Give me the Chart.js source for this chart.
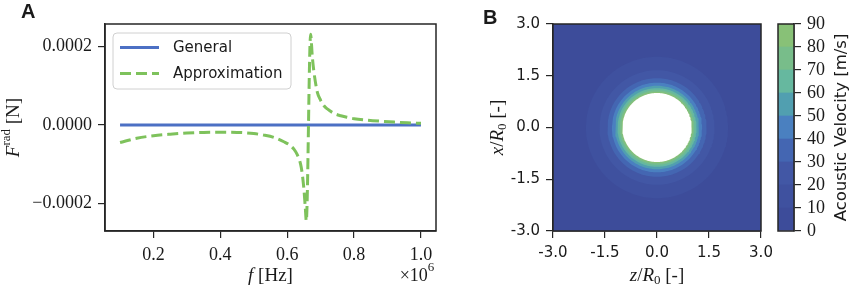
<!DOCTYPE html>
<html>
<head>
<meta charset="utf-8">
<script src="https://cdn.jsdelivr.net/npm/chart.js@4.4.0/dist/chart.umd.min.js"></script>
<style>
body { margin: 0; background: #fff; }
#wrap { position: relative; width: 851px; height: 286px; overflow: hidden; background: #fff; }
canvas { position: absolute; top: 0; }
.letra { position: absolute; font: bold 20px "Liberation Sans", Arial, sans-serif; color: #1a1a1a; }
</style>
</head>
<body>
<div id="wrap">
  <canvas id="grafA" width="440" height="286" style="left:0"></canvas>
  <canvas id="grafB" width="345" height="286" style="left:440px"></canvas>
  <canvas id="grafC" width="81" height="286" style="left:770px"></canvas>
  <div class="letra" style="left:21px;top:0px">A</div>
  <div class="letra" style="left:483px;top:6px">B</div>
</div>
<script>
// ---- dados do painel A (frequencia em 10^6 Hz, forca em N)
const freqApprox = [0.10, 0.15, 0.20, 0.25, 0.30, 0.35, 0.40, 0.45, 0.50, 0.53, 0.56, 0.59,
    0.61, 0.62, 0.63, 0.64, 0.645, 0.65, 0.654, 0.657, 0.670, 0.675, 0.68, 0.69, 0.70, 0.71,
    0.72, 0.74, 0.76, 0.78, 0.80, 0.84, 0.88, 0.92, 0.96, 1.00];
const forceApprox = [-4.5e-5, -3.4e-5, -2.75e-5, -2.35e-5, -2.05e-5, -1.9e-5, -1.85e-5, -1.9e-5,
    -2.2e-5, -2.6e-5, -3.2e-5, -4.3e-5, -5.3e-5, -6.2e-5, -7.6e-5, -1.0e-4, -1.25e-4, -1.65e-4,
    -2.1e-4, -2.45e-4, 2.32e-4, 1.75e-4, 1.35e-4, 8.4e-5, 6.3e-5, 4.9e-5, 4.1e-5, 2.95e-5,
    2.35e-5, 1.95e-5, 1.6e-5, 1.22e-5, 9.5e-6, 7.3e-6, 5.6e-6, 4.2e-6];
const freqGeneral = [0.10, 0.325, 0.55, 0.775, 1.00];
const forceGeneral = [0, 0, 0, 0, 0];
const xTicksA = [0.2, 0.4, 0.6, 0.8, 1.0];
const xTickLabelsA = ['0.2', '0.4', '0.6', '0.8', '1.0'];
const yTicksA = [-0.0002, 0, 0.0002];
const yTickLabelsA = ['\u22120.0002', '0.0000', '0.0002'];

// ---- dados do painel B (velocidade acustica)
const niveis = [0, 10, 20, 30, 40, 50, 60, 70, 80, 90];
const raiosNiveis = [2.05, 1.66, 1.43, 1.30, 1.21, 1.14, 1.08, 1.03]; // raio onde v = 10..80
const raioEsfera = 1.0;
const coresFaixas = ['#3d4c9a', '#3f519f', '#4257a5', '#4466b2', '#4a80c0', '#519fb0', '#66b89f', '#78bd8a', '#88c177'];
const ticksB = [-3, -1.5, 0, 1.5, 3];
const tickLabelsB = ['-3.0', '-1.5', '0.0', '1.5', '3.0'];
const ticksCor = [0, 10, 20, 30, 40, 50, 60, 70, 80, 90];
const tickLabelsCor = ['0', '10', '20', '30', '40', '50', '60', '70', '80', '90'];

Chart.defaults.animation = false;
Chart.defaults.font.family = '"DejaVu Sans", sans-serif';

const SERIF = '"Liberation Serif", "DejaVu Serif", serif';
const SANS = '"DejaVu Sans", sans-serif';
const ESCURO = '#262626';

// escreve texto com partes de fontes diferentes, centrado em (x, y)
function texto(ctx, partes, x, y, rot) {
    ctx.save();
    ctx.translate(x, y);
    if (rot) ctx.rotate(rot);
    ctx.fillStyle = '#1a1a1a';
    ctx.textBaseline = 'middle';
    let total = 0;
    partes.forEach(p => { ctx.font = p[1]; total += ctx.measureText(p[0]).width; });
    let cx = -total / 2;
    partes.forEach(p => {
        ctx.font = p[1];
        ctx.fillText(p[0], cx, p[2] || 0);
        cx += ctx.measureText(p[0]).width;
    });
    ctx.restore();
}

const moldura = {
    id: 'moldura',
    afterDraw(chart) {
        const a = chart.chartArea, ctx = chart.ctx;
        ctx.save();
        ctx.strokeStyle = ESCURO;
        ctx.lineWidth = 1.5;
        ctx.strokeRect(a.left, a.top, a.right - a.left, a.bottom - a.top);
        ctx.restore();
    }
};

function eixo(min, max, ticks, labels, fonte, extra) {
    return Object.assign({
        type: 'linear', min: min, max: max,
        afterBuildTicks: s => { s.ticks = ticks.map(v => ({value: v})); },
        ticks: { font: fonte, color: '#1a1a1a', padding: 6, autoSkip: false, maxRotation: 0,
                 callback: (v, i) => labels[i] },
        grid: { drawOnChartArea: false, tickLength: 7, color: ESCURO, lineWidth: 1.2 },
        border: { color: ESCURO, width: 1.5 }
    }, extra);
}

// ---------------- painel A
const textosA = {
    id: 'textosA',
    afterDraw(chart) {
        const ctx = chart.ctx, a = chart.chartArea;
        // legenda
        const lx = a.left + 8, ly = a.top + 9, lw = 178, lh = 56;
        ctx.save();
        ctx.beginPath();
        ctx.roundRect(lx, ly, lw, lh, 4);
        ctx.fillStyle = 'rgba(255,255,255,0.8)';
        ctx.fill();
        ctx.strokeStyle = '#d0d0d0';
        ctx.lineWidth = 1;
        ctx.stroke();
        chart.data.datasets.forEach((ds, i) => {
            const y = ly + 14.5 + i * 26;
            ctx.beginPath();
            ctx.setLineDash(ds.borderDash || []);
            ctx.strokeStyle = ds.borderColor;
            ctx.lineWidth = ds.borderWidth;
            ctx.moveTo(lx + 7, y);
            ctx.lineTo(lx + 46, y);
            ctx.stroke();
            ctx.setLineDash([]);
            ctx.fillStyle = '#1a1a1a';
            ctx.font = '15px ' + SANS;
            ctx.textBaseline = 'middle';
            ctx.fillText(ds.label, lx + 60, y + 1);
        });
        ctx.restore();
        // titulos dos eixos
        const cx = (a.left + a.right) / 2, cy = (a.top + a.bottom) / 2;
        texto(ctx, [['f', 'italic 19px ' + SERIF], [' [Hz]', '19px ' + SERIF]], cx, 276);
        texto(ctx, [['F', 'italic 19px ' + SERIF], ['rad', '13px ' + SERIF, -7], [' [N]', '19px ' + SERIF]], 14, cy, -Math.PI / 2);
        texto(ctx, [['\u00d710', '18px ' + SERIF], ['6', '13px ' + SERIF, -8]], a.right - 19, 276);
    }
};

new Chart(document.getElementById('grafA').getContext('2d'), {
    type: 'scatter',
    data: {
        datasets: [{
            label: 'General',
            data: freqGeneral.map((f, i) => ({x: f, y: forceGeneral[i]})),
            showLine: true, borderColor: '#4c70c4', borderWidth: 3, pointRadius: 0, order: 1
        }, {
            label: 'Approximation',
            data: freqApprox.map((f, i) => ({x: f, y: forceApprox[i]})),
            showLine: true, borderColor: '#7ec25c', borderWidth: 3, borderDash: [11, 5],
            pointRadius: 0, cubicInterpolationMode: 'monotone', order: 0
        }]
    },
    options: {
        responsive: false,
        layout: { padding: { left: 0, right: 4, top: 24, bottom: 0 } },
        plugins: { legend: { display: false }, tooltip: { enabled: false } },
        scales: {
            x: eixo(0.055, 1.045, xTicksA, xTickLabelsA, {family: SERIF, size: 18},
                    { afterFit: s => { s.height = 55; } }),
            y: eixo(-0.000271, 0.000258, yTicksA, yTickLabelsA, {family: SERIF, size: 18},
                    { afterFit: s => { s.width = 105; } })
        }
    },
    plugins: [moldura, textosA]
});

// ---------------- painel B
function circulo(r) {
    const pts = [];
    for (let k = 0; k <= 180; k++) {
        const t = k / 180 * 2 * Math.PI;
        pts.push({x: r * Math.cos(t), y: r * Math.sin(t)});
    }
    return pts;
}
const camadas = [];
camadas.push({ data: [{x: -3, y: -3}, {x: 3, y: -3}, {x: 3, y: 3}, {x: -3, y: 3}, {x: -3, y: -3}],
               backgroundColor: coresFaixas[0] });
raiosNiveis.forEach((r, i) => camadas.push({ data: circulo(r), backgroundColor: coresFaixas[i + 1] }));
camadas.push({ data: circulo(raioEsfera), backgroundColor: '#ffffff' });
camadas.forEach((c, i) => Object.assign(c, {
    showLine: true, fill: 'shape', borderWidth: 0, pointRadius: 0, tension: 0, order: camadas.length - i
}));

const textosB = {
    id: 'textosB',
    afterDraw(chart) {
        const ctx = chart.ctx, a = chart.chartArea;
        const cx = (a.left + a.right) / 2, cy = (a.top + a.bottom) / 2;
        texto(ctx, [['z', 'italic 19px ' + SERIF], ['/', '19px ' + SERIF], ['R', 'italic 19px ' + SERIF],
                     ['0', '13px ' + SERIF, 5], [' [-]', '19px ' + SERIF]], cx, 276);
        texto(ctx, [['x', 'italic 19px ' + SERIF], ['/', '19px ' + SERIF], ['R', 'italic 19px ' + SERIF],
                     ['0', '13px ' + SERIF, 5], [' [-]', '19px ' + SERIF]], 58, cy, -Math.PI / 2);
    }
};

new Chart(document.getElementById('grafB').getContext('2d'), {
    type: 'scatter',
    data: { datasets: camadas },
    options: {
        responsive: false,
        layout: { padding: { left: 0, right: 24, top: 24, bottom: 0 } },
        plugins: { legend: { display: false }, tooltip: { enabled: false } },
        scales: {
            x: eixo(-3, 3, ticksB, tickLabelsB, {family: SANS, size: 15},
                    { afterFit: s => { s.height = 55; } }),
            y: eixo(-3, 3, ticksB, tickLabelsB, {family: SANS, size: 15},
                    { afterFit: s => { s.width = 113; } })
        }
    },
    plugins: [moldura, textosB]
});

// ---------------- barra de cores
const textosC = {
    id: 'textosC',
    afterDraw(chart) {
        const a = chart.chartArea;
        texto(chart.ctx, [['Acoustic Velocity [m/s]', '16.5px ' + SANS]], 72, (a.top + a.bottom) / 2, -Math.PI / 2);
    }
};

new Chart(document.getElementById('grafC').getContext('2d'), {
    type: 'bar',
    data: {
        labels: ['v'],
        datasets: coresFaixas.map((cor, i) => ({
            data: [[niveis[i], niveis[i + 1]]],
            backgroundColor: cor, borderWidth: 0, grouped: false,
            barPercentage: 1, categoryPercentage: 1
        }))
    },
    options: {
        responsive: false,
        layout: { padding: { left: 8, right: 0, top: 24, bottom: 55 } },
        plugins: { legend: { display: false }, tooltip: { enabled: false } },
        scales: {
            x: { display: false },
            y: eixo(0, 90, ticksCor, tickLabelsCor, {family: SERIF, size: 18},
                    { position: 'right', afterFit: s => { s.width = 57; } })
        }
    },
    plugins: [moldura, textosC]
});
</script>
</body>
</html>
